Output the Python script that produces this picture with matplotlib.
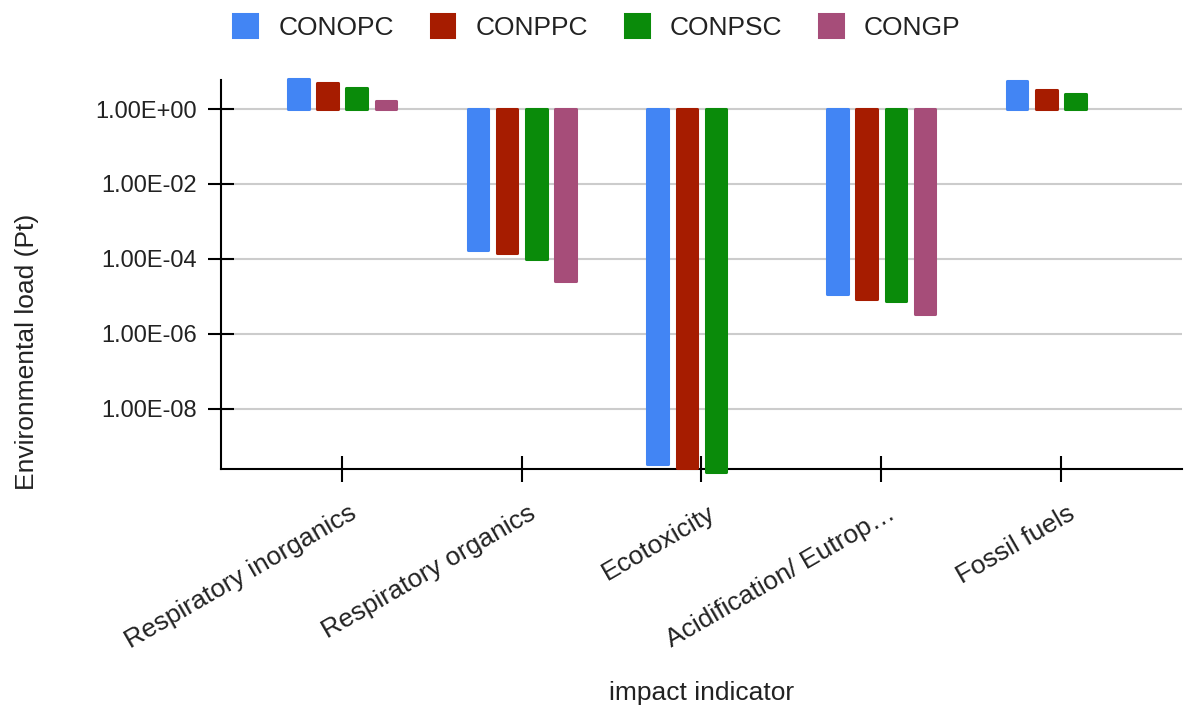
import numpy as np
import matplotlib
matplotlib.use("Agg")
import matplotlib.pyplot as plt
from matplotlib.patches import Patch
from matplotlib.transforms import ScaledTranslation

plt.rcParams['font.family'] = ['Liberation Sans', 'DejaVu Sans']

categories = ["Respiratory inorganics", "Respiratory organics", "Ecotoxicity",
              "Acidification/ Eutrop\u2026", "Fossil fuels"]
series_names = ["CONOPC", "CONPPC", "CONPSC", "CONGP"]
conopc = [6.2, 1.75e-4, 3.5e-10, 1.17e-5, 5.6]
conppc = [4.8, 1.47e-4, 2.7e-10, 8.8e-6, 3.2]
conpsc = [3.6, 1.0e-4, 2.1e-10, 7.7e-6, 2.5]
congp = [1.63, 2.55e-5, np.nan, 3.5e-6, np.nan]
colors = ['#4285f4', '#a61c00', '#0a8b0a', '#a64d79']
y_ticks = [1e0, 1e-2, 1e-4, 1e-6, 1e-8]

W, H = 1184, 711
fig = plt.figure(figsize=(W / 100, H / 100), dpi=100)
ax = fig.add_axes([221 / W, 1 - 469 / H, (1182 - 221) / W, (469 - 80) / H])

x = np.arange(len(categories))
step = 0.163
width = 0.115
edge = 2.2  # rounded edge outline, in points
for i, (vals, c) in enumerate(zip([conopc, conppc, conpsc, congp], colors)):
    vals = np.array(vals, dtype=float)
    ok = ~np.isnan(vals)
    ax.bar(x[ok] + (i - 1.5) * step, vals[ok] - 1, bottom=1, width=width,
           color=c, edgecolor=c, linewidth=edge, joinstyle='round',
           clip_on=False, zorder=3)

ax.set_yscale('log')
ax.set_ylim(2.5e-10, 5.94)
ax.set_xlim(-0.674, len(categories) - 1 + 0.674)
ax.set_yticks(y_ticks)
ax.set_yticklabels([f"{v:.2E}" for v in y_ticks])
ax.yaxis.set_minor_locator(matplotlib.ticker.NullLocator())
ax.set_xticks(x)
ax.set_xticklabels(categories, rotation=30, ha='right', va='top',
                   rotation_mode='anchor')

ax.tick_params(axis='both', direction='inout', length=19, width=1.5,
               color='black', labelcolor='#222222')
ax.tick_params(axis='y', labelsize=17, pad=8)
ax.tick_params(axis='x', labelsize=19, pad=8)

# nudge rotated category labels so their ends sit just right of the ticks
shift = ScaledTranslation(6 / 100, -8 / 100, fig.dpi_scale_trans)
for lbl in ax.get_xticklabels():
    lbl.set_transform(lbl.get_transform() + shift)

ax.grid(axis='y', color='#cccccc', linewidth=1.5)
ax.set_axisbelow(True)
for s in ['top', 'right']:
    ax.spines[s].set_visible(False)
for s in ['left', 'bottom']:
    ax.spines[s].set_linewidth(1.5)
    ax.spines[s].set_color('black')

fig.text(27 / W, 1 - 352 / H, "Environmental load (Pt)", rotation=90,
         ha='center', va='center', fontsize=19, color='#222222')
fig.text(702 / W, 1 - 693 / H, "impact indicator", ha='center', va='center',
         fontsize=19, color='#222222')

handles = [Patch(facecolor=c, edgecolor=c, linewidth=edge, joinstyle='round')
           for c in colors]
fig.legend(handles, series_names, loc='center', bbox_to_anchor=(597 / W, 1 - 27 / H),
           ncol=4, frameon=False, fontsize=19, handlelength=0.9, handleheight=0.95,
           handletextpad=0.8, columnspacing=1.4, labelcolor='#222222')

fig.savefig("out.png", dpi=100)
